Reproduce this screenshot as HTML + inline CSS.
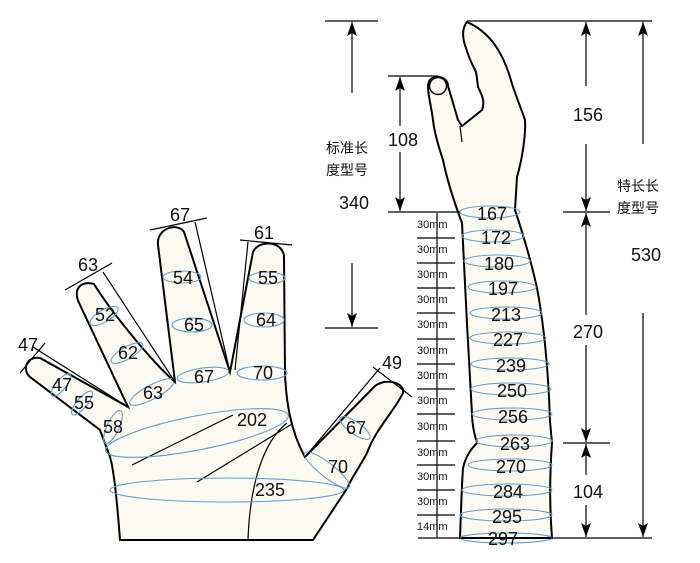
<!DOCTYPE html>
<html><head><meta charset="utf-8"><style>
html,body{margin:0;padding:0;background:#fff;}
svg{display:block;}
text{font-family:"Liberation Sans","Noto Sans CJK SC",sans-serif;fill:#111;}
.n{font-size:18px;text-anchor:middle;}
.s{font-size:11px;}
.e{fill:none;stroke:#5b9fd0;stroke-width:1.1;}
.l{stroke:#000;stroke-width:1.2;fill:none;}
</style></head><body>
<svg width="700" height="563" viewBox="0 0 700 563" xmlns="http://www.w3.org/2000/svg">
<defs>
<marker id="a" markerWidth="14" markerHeight="10" refX="14" refY="5" orient="auto-start-reverse" markerUnits="userSpaceOnUse" viewBox="0 0 14 10">
<path d="M0,0 L14,5 L0,10 L3,5 Z" fill="#000"/></marker>
</defs>

<!-- HAND -->
<path d="M120,540 C117,500 114,470 110,457 L100,430 L30,377 C22,370 26,356 40,358 L128,407 L80,305 C72,290 80,280 94,284 C110,310 150,360 175,382 L158,245 C156,228 178,222 184,232 L230,372 L253,252 C258,240 282,240 284,256 L285,373 C286,400 290,430 305,457 L375,386 C385,378 405,382 403,393 C395,410 375,430 367,453 C358,470 350,480 348,487 L313,540 Z" fill="#fdfaf2" stroke="#000" stroke-width="2"/>
<path class="l" d="M248,540 C250,480 265,440 287,423" stroke-width="1.5"/>
<line class="l" x1="132" y1="465" x2="233" y2="415"/>
<line class="l" x1="197" y1="482" x2="292" y2="424"/>

<ellipse class="e" cx="182" cy="277" rx="19" ry="6"/>
<ellipse class="e" cx="192" cy="325" rx="20" ry="7"/>
<ellipse class="e" cx="267" cy="278" rx="18" ry="6"/>
<ellipse class="e" cx="264" cy="320" rx="20" ry="7"/>
<ellipse class="e" cx="104" cy="316" rx="16" ry="6" transform="rotate(-30 104 316)"/>
<ellipse class="e" cx="127" cy="353" rx="18" ry="6" transform="rotate(-30 127 353)"/>
<ellipse class="e" cx="61" cy="385" rx="14" ry="5" transform="rotate(-50 61 385)"/>
<ellipse class="e" cx="82" cy="403" rx="15" ry="5" transform="rotate(-50 82 403)"/>
<ellipse class="e" cx="113" cy="427" rx="18" ry="6" transform="rotate(-65 113 427)"/>
<ellipse class="e" cx="152" cy="392" rx="25" ry="7" transform="rotate(-28 152 392)"/>
<ellipse class="e" cx="203" cy="375" rx="26" ry="7" transform="rotate(-8 203 375)"/>
<ellipse class="e" cx="262" cy="373" rx="25" ry="7"/>
<ellipse class="e" cx="197" cy="433" rx="93" ry="17" transform="rotate(-11 197 433)"/>
<ellipse class="e" cx="227" cy="490" rx="117" ry="12"/>
<ellipse class="e" cx="355" cy="428" rx="18" ry="6" transform="rotate(35 355 428)"/>
<ellipse class="e" cx="327" cy="470" rx="28" ry="7" transform="rotate(38 327 470)"/>

<line class="l" x1="20" y1="373" x2="45" y2="343"/>
<line class="l" x1="33" y1="347" x2="128" y2="407"/>
<line class="l" x1="65" y1="290" x2="112" y2="263"/>
<line class="l" x1="103" y1="272" x2="175" y2="382"/>
<line class="l" x1="150" y1="230" x2="207" y2="218"/>
<line class="l" x1="195" y1="222" x2="230" y2="372"/>
<line class="l" x1="240" y1="240" x2="292" y2="245"/>
<line class="l" x1="248" y1="242" x2="235" y2="370"/>
<line class="l" x1="373" y1="367" x2="412" y2="397"/>
<line class="l" x1="380" y1="368" x2="305" y2="457"/>

<text class="n" x="28" y="351">47</text>
<text class="n" x="88" y="271">63</text>
<text class="n" x="180" y="221">67</text>
<text class="n" x="264" y="239">61</text>
<text class="n" x="392" y="369">49</text>
<text class="n" x="183" y="284">54</text>
<text class="n" x="194" y="331">65</text>
<text class="n" x="268" y="284">55</text>
<text class="n" x="266" y="326">64</text>
<text class="n" x="105" y="321">52</text>
<text class="n" x="128" y="359">62</text>
<text class="n" x="62" y="391">47</text>
<text class="n" x="84" y="409">55</text>
<text class="n" x="113" y="433">58</text>
<text class="n" x="153" y="399">63</text>
<text class="n" x="204" y="383">67</text>
<text class="n" x="263" y="379">70</text>
<text class="n" x="252" y="426">202</text>
<text class="n" x="270" y="496">235</text>
<text class="n" x="356" y="434">67</text>
<text class="n" x="338" y="473">70</text>

<!-- GLOVE -->
<path d="M467,22 C485,30 500,45 510,77 C515,95 522,110 525,120 C526,135 522,160 517,177 L515,210 C525,240 533,270 537,288 C543,320 548,360 550,421 L552,443 C550,470 549,500 552,538 L460,538 C461,510 462,480 463,468 C466,455 472,448 477,443 C473,430 472,420 472,414 L467,324 L462,223 L458,212 C452,195 446,175 443,160 C438,145 434,130 433,120 C431,105 428,95 428,87 C428,78 434,77 438,77 C445,77 448,82 448,86 L458,120 L462,126 L482,110 C486,100 480,92 478,87 C477,80 477,72 474,68 C470,60 468,55 466,48 C462,38 462,28 467,22 Z" fill="#fdfaf2" stroke="#000" stroke-width="2"/>
<circle cx="438" cy="86" r="8.5" fill="#fdfaf2" stroke="#000" stroke-width="1.5"/>
<line class="l" x1="460" y1="126" x2="462" y2="142" stroke-width="2"/>

<g>
<ellipse class="e" cx="490" cy="212" rx="30" ry="6"/>
<ellipse class="e" cx="493" cy="236" rx="31" ry="6"/>
<ellipse class="e" cx="497" cy="261" rx="33" ry="6"/>
<ellipse class="e" cx="502" cy="287" rx="34" ry="6"/>
<ellipse class="e" cx="506" cy="313" rx="36" ry="6"/>
<ellipse class="e" cx="508" cy="338" rx="38" ry="6"/>
<ellipse class="e" cx="510" cy="364" rx="39" ry="6"/>
<ellipse class="e" cx="511" cy="389" rx="40" ry="6"/>
<ellipse class="e" cx="512" cy="414" rx="40" ry="6"/>
<ellipse class="e" cx="514" cy="441" rx="38" ry="6"/>
<ellipse class="e" cx="510" cy="465" rx="42" ry="6"/>
<ellipse class="e" cx="507" cy="490" rx="45" ry="6"/>
<ellipse class="e" cx="506" cy="515" rx="46" ry="6"/>
<ellipse class="e" cx="506" cy="538" rx="46" ry="5"/>
</g>
<text class="n" x="492" y="220">167</text>
<text class="n" x="496" y="244">172</text>
<text class="n" x="499" y="270">180</text>
<text class="n" x="503" y="295">197</text>
<text class="n" x="506" y="321">213</text>
<text class="n" x="508" y="346">227</text>
<text class="n" x="511" y="372">239</text>
<text class="n" x="512" y="397">250</text>
<text class="n" x="513" y="423">256</text>
<text class="n" x="515" y="450">263</text>
<text class="n" x="511" y="473">270</text>
<text class="n" x="508" y="498">284</text>
<text class="n" x="507" y="523">295</text>
<text class="n" x="503" y="545">297</text>

<line class="l" x1="437" y1="213" x2="437" y2="538"/>
<g class="l">
<line x1="417" y1="238" x2="455" y2="238"/><line x1="417" y1="263" x2="455" y2="263"/>
<line x1="417" y1="288" x2="455" y2="288"/><line x1="417" y1="313" x2="455" y2="313"/>
<line x1="417" y1="339" x2="455" y2="339"/><line x1="417" y1="364" x2="455" y2="364"/>
<line x1="417" y1="389" x2="455" y2="389"/><line x1="417" y1="414" x2="455" y2="414"/>
<line x1="417" y1="441" x2="455" y2="441"/><line x1="417" y1="465" x2="455" y2="465"/>
<line x1="417" y1="490" x2="455" y2="490"/><line x1="417" y1="515" x2="455" y2="515"/>
</g>
<g class="s">
<text x="417" y="228">30mm</text><text x="417" y="253">30mm</text><text x="417" y="278">30mm</text>
<text x="417" y="303">30mm</text><text x="417" y="328">30mm</text><text x="417" y="354">30mm</text>
<text x="417" y="379">30mm</text><text x="417" y="404">30mm</text><text x="417" y="430">30mm</text>
<text x="417" y="456">30mm</text><text x="417" y="480">30mm</text><text x="417" y="505">30mm</text>
<text x="417" y="530">14mm</text>
</g>

<line class="l" x1="325" y1="21" x2="378" y2="21"/>
<line class="l" x1="352" y1="22" x2="352" y2="93" marker-start="url(#a)"/>
<line class="l" x1="388" y1="76" x2="438" y2="76"/>
<line class="l" x1="400" y1="77" x2="400" y2="126" marker-start="url(#a)"/>
<line class="l" x1="400" y1="152" x2="400" y2="211" marker-end="url(#a)"/>
<line class="l" x1="388" y1="212" x2="460" y2="212"/>
<text class="n" x="403" y="146">108</text>
<text x="326" y="153" style="font-size:14px">标准长</text>
<text x="326" y="175" style="font-size:14px">度型号</text>
<text class="n" x="354" y="209">340</text>
<line class="l" x1="352" y1="263" x2="352" y2="327" marker-end="url(#a)"/>
<line class="l" x1="325" y1="328" x2="378" y2="328"/>

<line class="l" x1="467" y1="21" x2="652" y2="21"/>
<line class="l" x1="586" y1="22" x2="586" y2="86" marker-start="url(#a)"/>
<line class="l" x1="586" y1="144" x2="586" y2="211" marker-end="url(#a)"/>
<text class="n" x="588" y="121">156</text>
<line class="l" x1="563" y1="212" x2="610" y2="212"/>
<line class="l" x1="586" y1="213" x2="586" y2="315" marker-start="url(#a)"/>
<line class="l" x1="586" y1="345" x2="586" y2="442" marker-end="url(#a)"/>
<text class="n" x="588" y="338">270</text>
<line class="l" x1="563" y1="443" x2="610" y2="443"/>
<line class="l" x1="586" y1="444" x2="586" y2="475" marker-start="url(#a)"/>
<line class="l" x1="586" y1="505" x2="586" y2="537" marker-end="url(#a)"/>
<text class="n" x="588" y="498">104</text>
<line class="l" x1="418" y1="538" x2="652" y2="538"/>
<line class="l" x1="643" y1="22" x2="643" y2="144" marker-start="url(#a)"/>
<line class="l" x1="643" y1="313" x2="643" y2="537" marker-end="url(#a)"/>
<text x="617" y="191" style="font-size:14px">特长长</text>
<text x="617" y="213" style="font-size:14px">度型号</text>
<text class="n" x="646" y="261">530</text>
</svg>
</body></html>
